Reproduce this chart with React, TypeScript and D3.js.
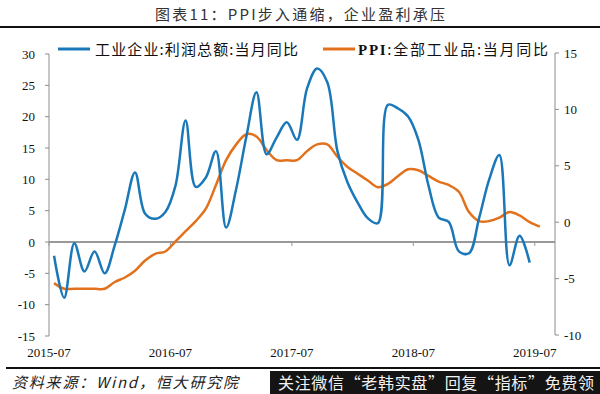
import React, { useRef, useEffect } from 'react'
import * as d3 from 'd3'

// monthly points, 2015-07 .. 2019-06 (profit) and 2015-07 .. 2019-07 (PPI)
const profitYoY = [
  -2.2, -8.9, -0.2, -4.7, -1.5, -5.0,
  -0.5, 5.2, 11.1, 4.5, 3.7, 4.8, 9.0, 19.4, 8.8, 10.3, 14.5, 2.3,
  8.5, 16.8, 23.9, 14.0, 16.7, 19.1, 16.3, 24.5, 27.7, 25.5, 14.5, 9.5,
  6.3, 3.8, 3.0, 21.9, 21.3, 20.0, 16.3, 9.0, 3.9, 3.2, -1.5, -1.8,
  3.8, 10.0, 13.9, -3.7, 1.0, -3.3
]
const ppiYoY = [
  -5.4, -5.9, -5.9, -5.9, -5.9, -5.9,
  -5.3, -4.9, -4.3, -3.4, -2.8, -2.6, -1.7, -0.8, 0.1, 1.2, 3.3, 5.5,
  6.9, 7.8, 7.6, 6.4, 5.5, 5.5, 5.5, 6.3, 6.9, 6.9, 5.8, 4.9,
  4.3, 3.7, 3.1, 3.4, 4.1, 4.7, 4.6, 4.1, 3.6, 3.3, 2.7, 0.9,
  0.1, 0.1, 0.4, 0.9, 0.6, 0.0, -0.4
]
const xTickLabels = ['2015-07', '2016-07', '2017-07', '2018-07', '2019-07']
const leftTicks = [30, 25, 20, 15, 10, 5, 0, -5, -10, -15]
const rightTicks = [15, 10, 5, 0, -5, -10]

const title = '图表11：PPI步入通缩，企业盈利承压'
const profitName = '工业企业:利润总额:当月同比'
const ppiName = ':全部工业品:当月同比'
const source = '资料来源：Wind，恒大研究院'
const watermark = '关注微信“老韩实盘”回复“指标”免费领'

const W = 600
const H = 394
const BLUE = '#1a78b8'
const ORANGE = '#e2711d'
const AXIS = '#8c8c8c'
const NUM_FONT = '"Liberation Serif", "Times New Roman", serif'
const CJK_FONT = '"Noto Sans CJK SC", "Noto Sans", sans-serif'

export default function App() {
  const svgRef = useRef<SVGSVGElement>(null)

  useEffect(() => {
    if (!svgRef.current) return
    const svg = d3.select(svgRef.current)
    svg.selectAll('*').remove()

    const plot = { left: 49, right: 555, top: 54, bottom: 336 }
    // months since 2015-07 start; axis runs to 2019-09
    const x = d3.scaleLinear().domain([0, 50]).range([plot.left, plot.right])
    const yL = d3.scaleLinear().domain([-15, 30]).range([plot.bottom, plot.top])
    const yR = d3.scaleLinear().domain([-10, 15]).range([plot.bottom - 1, plot.top - 1])

    svg.append('rect').attr('width', W).attr('height', H).attr('fill', '#fff')

    // title + rule
    svg.append('text')
      .attr('x', 300).attr('y', 20)
      .attr('text-anchor', 'middle')
      .attr('textLength', 290)
      .attr('font-family', CJK_FONT)
      .attr('font-size', 15)
      .attr('fill', '#333')
      .text(title)
    svg.append('line')
      .attr('x1', 0).attr('x2', W).attr('y1', 27).attr('y2', 27)
      .attr('stroke', '#111').attr('stroke-width', 2)

    // legend
    const legend = svg.append('g').attr('font-family', CJK_FONT).attr('font-size', 15).attr('fill', '#111')
    legend.append('line').attr('x1', 58).attr('x2', 90).attr('y1', 49).attr('y2', 49)
      .attr('stroke', BLUE).attr('stroke-width', 3)
    legend.append('text').attr('x', 95).attr('y', 54.5).attr('textLength', 203).text(profitName)
    legend.append('line').attr('x1', 323).attr('x2', 355).attr('y1', 49).attr('y2', 49)
      .attr('stroke', ORANGE).attr('stroke-width', 3)
    const t2 = legend.append('text').attr('x', 358).attr('y', 54.5).attr('textLength', 190)
    t2.append('tspan').attr('font-family', NUM_FONT).attr('font-weight', 'bold').text('PPI')
    t2.append('tspan').text(ppiName)

    // left axis
    const gL = svg.append('g')
    gL.append('line').attr('x1', plot.left).attr('x2', plot.left)
      .attr('y1', yL(30)).attr('y2', yL(-15)).attr('stroke', AXIS).attr('stroke-width', 1)
    leftTicks.forEach(v => {
      gL.append('line').attr('x1', plot.left - 4).attr('x2', plot.left)
        .attr('y1', yL(v)).attr('y2', yL(v)).attr('stroke', AXIS)
      gL.append('text').attr('x', 35).attr('y', yL(v) + 4.5)
        .attr('text-anchor', 'end').attr('font-family', NUM_FONT).attr('font-size', 13)
        .attr('fill', '#111').text(String(v))
    })

    // right axis
    const gR = svg.append('g')
    gR.append('line').attr('x1', plot.right).attr('x2', plot.right)
      .attr('y1', yR(15)).attr('y2', yR(-10)).attr('stroke', AXIS).attr('stroke-width', 1)
    rightTicks.forEach(v => {
      gR.append('line').attr('x1', plot.right).attr('x2', plot.right + 4)
        .attr('y1', yR(v)).attr('y2', yR(v)).attr('stroke', AXIS)
      gR.append('text').attr('x', 564).attr('y', yR(v) + 4.5)
        .attr('font-family', NUM_FONT).attr('font-size', 13)
        .attr('fill', '#111').text(String(v))
    })

    // zero line with month ticks
    svg.append('line').attr('x1', plot.left).attr('x2', plot.right)
      .attr('y1', yL(0)).attr('y2', yL(0)).attr('stroke', '#999').attr('stroke-width', 2)
    xTickLabels.forEach((lab, i) => {
      const xp = x(i * 12)
      svg.append('line').attr('x1', xp).attr('x2', xp).attr('y1', yL(0)).attr('y2', yL(0) + 4)
        .attr('stroke', '#999')
      svg.append('text').attr('x', xp).attr('y', 357)
        .attr('text-anchor', 'middle').attr('font-family', NUM_FONT).attr('font-size', 13)
        .attr('fill', '#111').text(lab)
    })

    // series
    const curve = d3.curveCatmullRom.alpha(0.5)
    const lineL = d3.line<number>().x((_, i) => x(i + 0.5)).y(d => yL(d)).curve(curve)
    const lineR = d3.line<number>().x((_, i) => x(i + 0.5)).y(d => yR(d)).curve(curve)

    svg.append('path').datum(ppiYoY)
      .attr('fill', 'none').attr('stroke', ORANGE).attr('stroke-width', 2.5)
      .attr('stroke-linejoin', 'round').attr('d', lineR)
    svg.append('path').datum(profitYoY)
      .attr('fill', 'none').attr('stroke', BLUE).attr('stroke-width', 2.5)
      .attr('stroke-linejoin', 'round').attr('d', lineL)

    // footer
    svg.append('line').attr('x1', 6).attr('x2', W).attr('y1', 368).attr('y2', 368)
      .attr('stroke', '#111').attr('stroke-width', 2)
    svg.append('text').attr('x', 12).attr('y', 388)
      .attr('textLength', 226)
      .attr('font-family', CJK_FONT).attr('font-size', 15).attr('font-style', 'italic')
      .attr('fill', '#222').text(source)
    svg.append('rect').attr('x', 270).attr('y', 371).attr('width', W - 270).attr('height', H - 371)
      .attr('fill', '#141414')
    svg.append('text').attr('x', 278).attr('y', 389)
      .attr('textLength', 316)
      .attr('font-family', CJK_FONT).attr('font-size', 16)
      .attr('fill', '#f2f2f2').text(watermark)
  }, [])

  return (
    <svg
      ref={svgRef}
      width={W}
      height={H}
      style={{ position: 'absolute', left: 0, top: 0, display: 'block' }}
    />
  )
}
